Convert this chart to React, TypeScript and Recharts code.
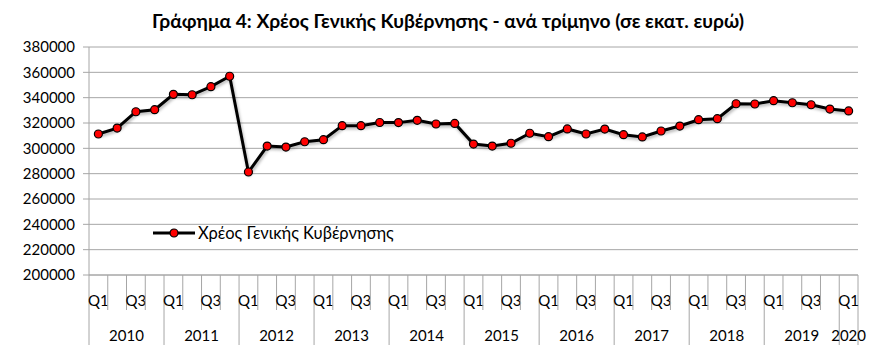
import React from 'react';
import { LineChart, Line, XAxis, YAxis, CartesianGrid } from 'recharts';

const years = ['2010', '2011', '2012', '2013', '2014', '2015', '2016', '2017', '2018', '2019', '2020'];
const quarterNames = ['Q1', 'Q2', 'Q3', 'Q4'];
const debtValues = [
  311300, 316000, 328900, 330500,
  342600, 342300, 348700, 356900,
  281300, 301800, 301000, 305200,
  306800, 317900, 317900, 320400,
  320300, 322100, 319200, 319700,
  303400, 301800, 304000, 311900,
  309200, 315300, 311300, 315200,
  310800, 309000, 313700, 317600,
  322600, 323400, 335200, 335000,
  337600, 336000, 334400, 331000,
  329500,
];
const yTicks = [200000, 220000, 240000, 260000, 280000, 300000, 320000, 340000, 360000, 380000];
const seriesName = 'Χρέος Γενικής Κυβέρνησης';
const title = 'Γράφημα 4: Χρέος Γενικής Κυβέρνησης - ανά τρίμηνο (σε εκατ. ευρώ)';

const data = debtValues.map((v, i) => ({
  idx: i,
  quarter: quarterNames[i % 4],
  year: years[Math.floor(i / 4)],
  value: v,
}));

const W = 878;
const H = 357;
const LEFT = 89;
const RIGHT = 20;
const BAND = (W - LEFT - RIGHT) / data.length;
const FONT = 'Lato, "Noto Sans", sans-serif';
const GRID = '#a6a6a6';

const XTick = (props: any) => {
  const { x, y, payload } = props;
  const i = payload.index ?? payload.value;
  const d = data[i];
  if (!d) return null;
  const left = x - BAND / 2;
  const isYearStart = d.quarter === 'Q1';
  const isLast = i === data.length - 1;
  const yearCount = data.filter((e) => e.year === d.year).length;
  return (
    <g>
      <line x1={left} x2={left} y1={y} y2={y + (isYearStart ? 70 : 35)} stroke={GRID} strokeWidth={1} />
      {isLast && (
        <line x1={x + BAND / 2} x2={x + BAND / 2} y1={y} y2={y + 70} stroke={GRID} strokeWidth={1} />
      )}
      {(d.quarter === 'Q1' || d.quarter === 'Q3') && (
        <text x={x} y={y + 31} textAnchor="middle" fontFamily={FONT} fontSize={15} fill="#000">
          {d.quarter}
        </text>
      )}
      {d.quarter === 'Q3' && yearCount === 4 && (
        <text x={left} y={y + 66} textAnchor="middle" fontFamily={FONT} fontSize={15} fill="#000">
          {d.year}
        </text>
      )}
      {yearCount === 1 && (
        <text x={x} y={y + 66} textAnchor="middle" fontFamily={FONT} fontSize={15} fill="#000">
          {d.year}
        </text>
      )}
    </g>
  );
};

const Dot = (props: any) => {
  const { cx, cy } = props;
  if (cx == null || cy == null) return null;
  return <circle cx={cx} cy={cy} r={4} fill="#ff0000" stroke="#000" strokeWidth={1.2} />;
};

export default function App() {
  return (
    <div style={{ position: 'relative', width: W, height: H, margin: -8, background: '#fff' }}>
      <div
        style={{
          position: 'absolute',
          top: 9,
          left: 0,
          width: 896,
          textAlign: 'center',
          fontFamily: FONT,
          fontWeight: 'bold',
          fontSize: 19.2,
          lineHeight: '24px',
          color: '#000',
          whiteSpace: 'nowrap',
        }}
      >
        {title}
      </div>
      <LineChart width={W} height={H} data={data} margin={{ top: 47, right: RIGHT, bottom: 0, left: 0 }}>
        <CartesianGrid vertical={false} stroke={GRID} strokeWidth={1} />
        <XAxis
          dataKey="idx"
          type="category"
          scale="band"
          height={82}
          interval={0}
          tickSize={0}
          tickMargin={0}
          tickLine={false}
          axisLine={{ stroke: GRID }}
          tick={<XTick />}
        />
        <YAxis
          width={LEFT}
          domain={[200000, 380000]}
          ticks={yTicks}
          interval={0}
          tickSize={6}
          tickMargin={8}
          axisLine={{ stroke: GRID }}
          tickLine={{ stroke: GRID }}
          tick={{ fontFamily: FONT, fontSize: 15, fill: '#000' }}
        />
        <Line
          type="linear"
          dataKey="value"
          name={seriesName}
          stroke="#000"
          strokeWidth={3}
          dot={<Dot />}
          activeDot={false}
          isAnimationActive={false}
          style={{ filter: 'drop-shadow(1px 2px 1.5px rgba(0,0,0,0.3))' }}
        />
      </LineChart>
      <div
        style={{
          position: 'absolute',
          left: 153,
          top: 222,
          height: 22,
          display: 'flex',
          alignItems: 'center',
          fontFamily: FONT,
          fontSize: 16.5,
          color: '#000',
          whiteSpace: 'nowrap',
        }}
      >
        <svg width={44} height={22} style={{ display: 'block' }}>
          <line x1={0} x2={42} y1={11} y2={11} stroke="#000" strokeWidth={3} />
          <circle cx={21} cy={11} r={4} fill="#ff0000" stroke="#000" strokeWidth={1.2} />
        </svg>
        <span style={{ marginLeft: 1 }}>{seriesName}</span>
      </div>
    </div>
  );
}
